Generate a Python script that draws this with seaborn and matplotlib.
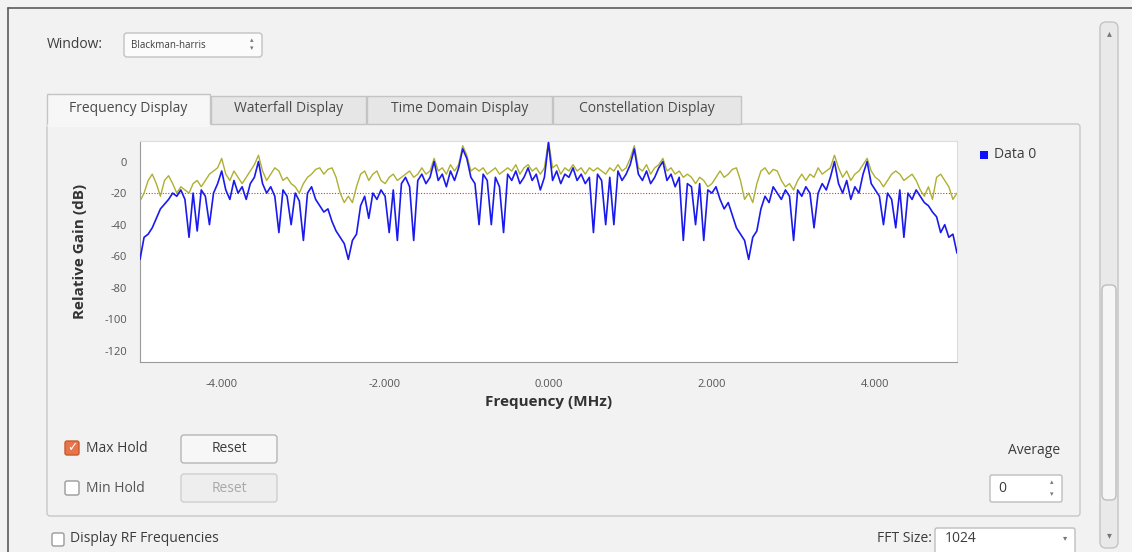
import numpy as np
import pandas as pd
import matplotlib
matplotlib.use("Agg")
import matplotlib.pyplot as plt
from matplotlib.patches import FancyBboxPatch, Rectangle
from matplotlib.ticker import MultipleLocator, FuncFormatter
import seaborn as sns

# ------------------------------------------------------------
# datos (paso de 0.05 MHz, -5 .. 5 MHz)
# ------------------------------------------------------------
freq_mhz = np.round(np.arange(-5.0, 5.0001, 0.05), 2)

data0_db = [
    -62, -48, -46, -42, -36, -30, -27, -24, -20, -22, -18, -24, -48, -20, -44, -18, -22, -40, -20, -14,
    -6, -18, -24, -12, -20, -16, -24, -14, -10, 0, -14, -20, -16, -22, -45, -18, -22, -40, -20, -25,
    -50, -20, -16, -24, -28, -32, -30, -38, -44, -48, -52, -62, -50, -46, -28, -22, -36, -20, -24, -18,
    -22, -45, -18, -50, -14, -10, -16, -50, -12, -8, -14, -10, 0, -12, -8, -16, -6, -12, -4, 8,
    2, -10, -14, -40, -8, -12, -40, -10, -16, -45, -8, -12, -6, -14, -10, -4, -12, -8, -18, -10,
    12, -12, -6, -14, -8, -10, -4, -12, -8, -14, -10, -45, -8, -12, -40, -10, -40, -6, -12, -8,
    -2, 8, -8, -12, -6, -14, -10, -4, 0, -12, -8, -16, -10, -50, -14, -16, -40, -14, -50, -18,
    -20, -16, -24, -30, -26, -34, -42, -46, -50, -62, -48, -44, -30, -22, -26, -16, -20, -24, -18, -22,
    -50, -18, -22, -16, -20, -42, -20, -14, -18, -10, 0, -14, -20, -12, -24, -16, -20, -8, 0, -14,
    -18, -22, -40, -20, -24, -42, -18, -48, -20, -24, -18, -22, -26, -28, -32, -35, -45, -40, -48, -46,
    -58,
]

max_hold_db = [
    -25, -20, -12, -8, -14, -22, -12, -9, -14, -20, -16, -18, -20, -14, -12, -16, -12, -8, -6, -4,
    2, -8, -12, -6, -10, -14, -10, -6, -2, 4, -6, -12, -8, -4, -6, -12, -10, -14, -16, -20,
    -14, -10, -8, -5, -4, -8, -5, -4, -10, -20, -26, -22, -26, -16, -8, -6, -12, -8, -6, -12,
    -14, -10, -8, -12, -10, -8, -6, -10, -8, -4, -8, -6, 2, -6, -4, -8, -2, -6, -2, 10,
    4, -6, -4, -6, -4, -8, -6, -4, -8, -6, -4, -6, -2, -8, -4, -2, -6, -4, -8, -4,
    13, -4, -2, -8, -4, -6, -2, -6, -4, -8, -4, -6, -4, -6, -8, -4, -6, -2, -6, -4,
    2, 10, -4, -6, -2, -8, -4, -2, 2, -6, -4, -8, -6, -10, -8, -10, -14, -10, -12, -16,
    -14, -10, -6, -10, -8, -5, -4, -12, -24, -20, -26, -14, -6, -4, -8, -5, -6, -12, -16, -14,
    -18, -12, -8, -12, -8, -10, -4, -8, -6, -4, 4, -4, -10, -6, -12, -8, -6, -2, 2, -6,
    -10, -12, -16, -12, -8, -6, -8, -12, -10, -8, -12, -18, -22, -16, -24, -10, -8, -12, -16, -24,
    -20,
]

umbral_db = -20
x_ticks = [-4, -2, 0, 2, 4]
y_ticks = [0, -20, -40, -60, -80, -100, -120]

df = pd.DataFrame({"Frecuencia": freq_mhz, "Data 0": data0_db, "Max Hold": max_hold_db})

# ------------------------------------------------------------
# figura
# ------------------------------------------------------------
sns.set_style("white")
plt.rcParams["font.family"] = ["Open Sans", "DejaVu Sans"]
plt.rcParams["axes.unicode_minus"] = False

W, H = 1132, 552
fig = plt.figure(figsize=(W / 100, H / 100), dpi=100, facecolor="#f2f2f2")

# capa de fondo en pixeles para los widgets
bg = fig.add_axes([0, 0, 1, 1])
bg.set_xlim(0, W)
bg.set_ylim(H, 0)
bg.axis("off")
bg.set_facecolor("#f2f2f2")


def caja(x0, y0, x1, y1, fc="#f7f7f7", ec="#bdbdbd", r=3, lw=1.0, z=1):
    bg.add_patch(FancyBboxPatch((x0, y0), x1 - x0, y1 - y0,
                                boxstyle=f"round,pad=0,rounding_size={r}",
                                fc=fc, ec=ec, lw=lw, zorder=z))


txt = "#3c3c3c"

# borde de ventana
bg.plot([8, W], [8, 8], color="#5a5a5a", lw=1.2)
bg.plot([8, 8], [8, H], color="#5a5a5a", lw=1.2)

# scrollbar
caja(1100, 22, 1118, 548, fc="#e9e9e9", ec="#c4c4c4", r=6)
caja(1102, 285, 1116, 500, fc="#f6f6f6", ec="#bdbdbd", r=5, z=2)
bg.text(1109, 34, "▴", ha="center", va="center", fontsize=7, color="#777", zorder=3)
bg.text(1109, 536, "▾", ha="center", va="center", fontsize=7, color="#777", zorder=3)

# Window combobox
bg.text(47, 45, "Window:", fontsize=10, color=txt, va="center")
caja(124, 33, 262, 57, fc="#fbfbfb", ec="#c2c2c2")
bg.text(131, 45, "Blackman-harris", fontsize=7, color=txt, va="center")
bg.text(252, 41, "▴", fontsize=5, color="#777", ha="center", va="center")
bg.text(252, 49, "▾", fontsize=5, color="#777", ha="center", va="center")

# panel y pestañas
caja(47, 124, 1080, 516, fc="#f2f2f2", ec="#c8c8c8", r=3)
tabs = [("Frequency Display", 47, 210), ("Waterfall Display", 211, 366),
        ("Time Domain Display", 367, 552), ("Constellation Display", 553, 741)]
for i, (nombre, a, b) in enumerate(tabs):
    sel = i == 0
    bg.add_patch(Rectangle((a, 94 if sel else 96), b - a, 31 if sel else 28,
                           fc="#f7f7f7" if sel else "#e6e6e6", ec="#c4c4c4", lw=1, zorder=2))
    bg.text((a + b) / 2, 109, nombre, fontsize=10, color="#4a4a4a",
            ha="center", va="center", zorder=3)
bg.plot([48, 209], [124.5, 124.5], color="#f7f7f7", lw=2, zorder=3)

# leyenda
bg.add_patch(Rectangle((980, 151), 8, 8, fc="#1010ff", ec="none", zorder=3))
bg.text(994, 155, "Data 0", fontsize=10, color=txt, va="center", zorder=3)

# controles inferiores
caja(65, 441, 79, 455, fc="#e8744a", ec="#c85a30", r=2, z=3)
bg.text(72, 448, "✓", fontsize=9, color="white", ha="center", va="center", zorder=4, fontweight="bold")
bg.text(86, 448, "Max Hold", fontsize=10, color=txt, va="center")
caja(181, 435, 277, 463, fc="#f7f7f7", ec="#b5b5b5", r=3, z=3)
bg.text(229, 449, "Reset", fontsize=10, color=txt, ha="center", va="center", zorder=4)

caja(65, 481, 79, 495, fc="#ffffff", ec="#9a9a9a", r=2, z=3)
bg.text(86, 488, "Min Hold", fontsize=10, color="#555555", va="center")
caja(181, 474, 277, 502, fc="#eeeeee", ec="#cfcfcf", r=3, z=3)
bg.text(229, 488, "Reset", fontsize=10, color="#a8a8a8", ha="center", va="center", zorder=4)

bg.text(1060, 450, "Average", fontsize=10, color=txt, ha="right", va="center")
caja(990, 475, 1062, 502, fc="#ffffff", ec="#bdbdbd", r=2, z=3)
bg.text(998, 489, "0", fontsize=10, color=txt, va="center", zorder=4)
bg.text(1052, 483, "▴", fontsize=5, color="#777", ha="center", va="center", zorder=4)
bg.text(1052, 495, "▾", fontsize=5, color="#777", ha="center", va="center", zorder=4)

caja(52, 533, 64, 546, fc="#ffffff", ec="#9a9a9a", r=2, z=3)
bg.text(70, 539, "Display RF Frequencies", fontsize=10, color=txt, va="center")
bg.text(932, 539, "FFT Size:", fontsize=10, color=txt, ha="right", va="center")
caja(935, 528, 1075, 560, fc="#ffffff", ec="#bdbdbd", r=2, z=3)
bg.text(945, 539, "1024", fontsize=10, color=txt, va="center", zorder=4)
bg.text(1065, 539, "▾", fontsize=6, color="#777", ha="center", va="center", zorder=4)

# ------------------------------------------------------------
# grafico de espectro
# ------------------------------------------------------------
x0, x1, y0, y1 = 140, 957, 141, 362
ax = fig.add_axes([x0 / W, 1 - y1 / H, (x1 - x0) / W, (y1 - y0) / H])
ax.set_facecolor("white")

sns.lineplot(data=df, x="Frecuencia", y="Max Hold", ax=ax, color="#aeb030", lw=1.0, zorder=2)
sns.lineplot(data=df, x="Frecuencia", y="Data 0", ax=ax, color="#1a1aee", lw=1.2, zorder=3)
ax.axhline(umbral_db, color="#e03a1a", lw=0.8, ls=(0, (1, 1.5)), zorder=1)

ax.set_xlim(-5, 5)
ax.set_ylim(-127, 13)
ax.set_xticks(x_ticks)
ax.set_yticks(y_ticks)
ax.xaxis.set_minor_locator(MultipleLocator(0.5))
ax.yaxis.set_minor_locator(MultipleLocator(4))
ax.xaxis.set_major_formatter(FuncFormatter(lambda v, p: f"{v:.3f}"))
ax.tick_params(axis="both", which="major", labelsize=8, labelcolor="#555555",
               color="#888888", length=6, width=0.8, direction="out")
ax.tick_params(axis="both", which="minor", color="#999999", length=3, width=0.6, direction="out")
ax.tick_params(axis="x", pad=6)
for s in ["top", "right"]:
    ax.spines[s].set_color("#dddddd")
for s in ["left", "bottom"]:
    ax.spines[s].set_color("#9a9a9a")

ax.set_xlabel("Frequency (MHz)", fontsize=11, fontweight="bold", color="#333333", labelpad=4)
ax.set_ylabel("Relative Gain (dB)", fontsize=11, fontweight="bold", color="#333333", labelpad=12)
ax.grid(False)

fig.savefig("out.png", dpi=100, facecolor=fig.get_facecolor())
